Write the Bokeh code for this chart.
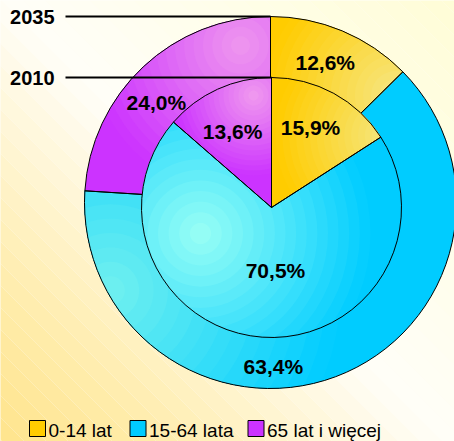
import numpy as np
from bokeh.plotting import figure
from bokeh.models import Range1d
from bokeh.embed import file_html
from bokeh.resources import INLINE
from bokeh.core.properties import value

# ---------------- data ----------------
categories = ["0-14 lat", "15-64 lata", "65 lat i więcej"]
years = ["2035", "2010"]
shares_2035 = [12.6, 63.4, 24.0]
shares_2010 = [15.9, 70.5, 13.6]
colors = ["#FFCC00", "#00CCFF", "#CC33FF"]

# ---------------- style / layout ----------------
W, H = 454, 441
FONT = value("Liberation Sans")


def S(xs, ys):
    """screen coords of the 454x441 window -> data coords"""
    return xs, 441 - ys


out_c = S(270, 202)
in_c = S(271, 207)
R_OUT, R_IN = 186, 130

# label placement (clockwise angle from top in degrees, radius)
lab_pos_2035 = [(21.4, 150), (179.0, 164), (311.3, 152)]
lab_pos_2010 = [(26.0, 89), (176.4, 63), (332.8, 85)]

# radial highlights per slice: (screen centre, radius, highlight colour)
hi_2035 = [((395, 95), 130, "#F6E683"), ((110, 290), 230, "#70F0F0"), ((240, 45), 150, "#EE96EE")]
hi_2010 = [((385, 135), 110, "#F5E67E"), ((200, 233), 170, "#99FFF5"), ((253, 95), 80, "#F09AEE")]

p = figure(width=W, height=H, x_range=Range1d(0, W), y_range=Range1d(0, H),
           output_backend="svg", toolbar_location=None,
           x_axis_location=None, y_axis_location=None, min_border=0)
p.grid.visible = False
p.outline_line_color = None
p.background_fill_color = "#FFFDF5"
p.border_fill_color = "#FFFDF5"
p.min_border_left = p.min_border_right = p.min_border_top = p.min_border_bottom = 0


def hex2rgb(h):
    h = h.lstrip("#")
    return np.array([int(h[i:i + 2], 16) for i in (0, 2, 4)], dtype=float)


def rgb2hex(c):
    c = np.clip(np.round(c), 0, 255).astype(int)
    return "#%02X%02X%02X" % tuple(c)


def mix(a, b, t):
    return rgb2hex(hex2rgb(a) * (1 - t) + hex2rgb(b) * t)


# ---------------- background (diagonal banded gradient) ----------------
stops_s = [0, 150, 300, 445, 650, 900]
stops_c = ["#FFE48C", "#FFECAA", "#FFF5D2", "#FFFEF8", "#FFFEEA", "#FFFDD6"]
bx, by, bc = [], [], []
step = 22
for s1 in range(-20, 920, step):
    s2 = s1 + step
    sm = s1 + step / 2
    rgb = np.array([np.interp(sm, stops_s, [hex2rgb(c)[k] for c in stops_c]) for k in range(3)])
    bx.append([s1 + 100, s2 + 100, s2 - 600, s1 - 600])
    by.append([-100, -100, 600, 600])
    bc.append(rgb2hex(rgb))
p.patches(xs=bx, ys=by, fill_color=bc, line_color=None)


# ---------------- geometry helpers ----------------
def sector_poly(cx, cy, r, a0, a1):
    n = max(8, int(160 * (a1 - a0) / (2 * np.pi)) + 2)
    th = np.linspace(a0, a1, n)
    return [(cx, cy)] + [(cx + r * np.sin(t), cy + r * np.cos(t)) for t in th]


def clip_poly(subject, clipper):
    def inside(pt, a, b):
        return (b[0] - a[0]) * (pt[1] - a[1]) - (b[1] - a[1]) * (pt[0] - a[0]) >= 0

    def inter(s, e, a, b):
        x1, y1 = s; x2, y2 = e; x3, y3 = a; x4, y4 = b
        den = (x1 - x2) * (y3 - y4) - (y1 - y2) * (x3 - x4)
        if abs(den) < 1e-12:
            return e
        t = ((x1 - x3) * (y3 - y4) - (y1 - y3) * (x3 - x4)) / den
        return (x1 + t * (x2 - x1), y1 + t * (y2 - y1))

    out = subject
    for i in range(len(clipper)):
        a, b = clipper[i - 1], clipper[i]
        inp, out = out, []
        if not inp:
            break
        s = inp[-1]
        for e in inp:
            if inside(e, a, b):
                if not inside(s, a, b):
                    out.append(inter(s, e, a, b))
                out.append(e)
            elif inside(s, a, b):
                out.append(inter(s, e, a, b))
            s = e
    return out


def ring(center, radius, shares, highlights, label_pos):
    cx, cy = center
    frac = np.array(shares) / np.sum(shares)
    ends = 2 * np.pi * np.cumsum(frac)
    starts = ends - 2 * np.pi * frac
    # base wedges (clockwise from 12 o'clock)
    p.wedge(x=cx, y=cy, radius=radius,
            start_angle=list(np.pi / 2 - ends), end_angle=list(np.pi / 2 - starts),
            fill_color=colors, line_color=None)
    # radial gradient overlays
    gx, gy, gc = [], [], []
    N = 16
    for a0, a1, base, (hc, hr, hcol) in zip(starts, ends, colors, highlights):
        sub = sector_poly(cx, cy, radius, a0, a1)
        hx, hy = S(*hc)
        for k in range(N):
            rho = hr * (N - k) / N
            phi = np.linspace(0, 2 * np.pi, 64, endpoint=False)
            circ = [(hx + rho * np.cos(f), hy + rho * np.sin(f)) for f in phi]
            poly = clip_poly(sub, circ)
            if len(poly) >= 3:
                gx.append([q[0] for q in poly])
                gy.append([q[1] for q in poly])
                gc.append(mix(base, hcol, (k + 0.5) / N))
    p.patches(xs=gx, ys=gy, fill_color=gc, line_color=None)
    # outlines
    p.wedge(x=cx, y=cy, radius=radius,
            start_angle=list(np.pi / 2 - ends), end_angle=list(np.pi / 2 - starts),
            fill_color=None, line_color="black", line_width=1)
    # labels
    lx = [cx + r * np.sin(np.radians(a)) for a, r in label_pos]
    ly = [cy + r * np.cos(np.radians(a)) for a, r in label_pos]
    txt = [("%.1f" % v).replace(".", ",") + "%" for v in shares]
    p.text(x=lx, y=ly, text=txt, text_font=FONT, text_font_size="21px",
           text_font_style="bold", text_align="center", text_baseline="middle",
           text_color="black")


ring(out_c, R_OUT, shares_2035, hi_2035, lab_pos_2035)
ring(in_c, R_IN, shares_2010, hi_2010, lab_pos_2010)

# ---------------- year markers ----------------
line_y = [out_c[1] + R_OUT, in_c[1] + R_IN]
line_x1 = [out_c[0], in_c[0]]
p.segment(x0=[65, 65], y0=line_y, x1=line_x1, y1=line_y, line_color="black", line_width=2)
p.text(x=[54, 54], y=line_y, text=years, text_font=FONT, text_font_size="20px",
       text_font_style="bold", text_align="right", text_baseline="middle", text_color="black")

# ---------------- legend ----------------
leg_box_x = [37, 137.5, 255.5]
leg_y = S(0, 428)[1]
p.rect(x=leg_box_x, y=leg_y, width=16, height=16, fill_color=colors,
       line_color="black", line_width=1)
p.text(x=[x + 11 for x in leg_box_x], y=S(0, 440)[1], text=categories, text_font=FONT,
       text_font_size="19px", text_align="left", text_baseline="bottom",
       text_color="black")

open("out.html", "w").write(file_html(p, INLINE))
